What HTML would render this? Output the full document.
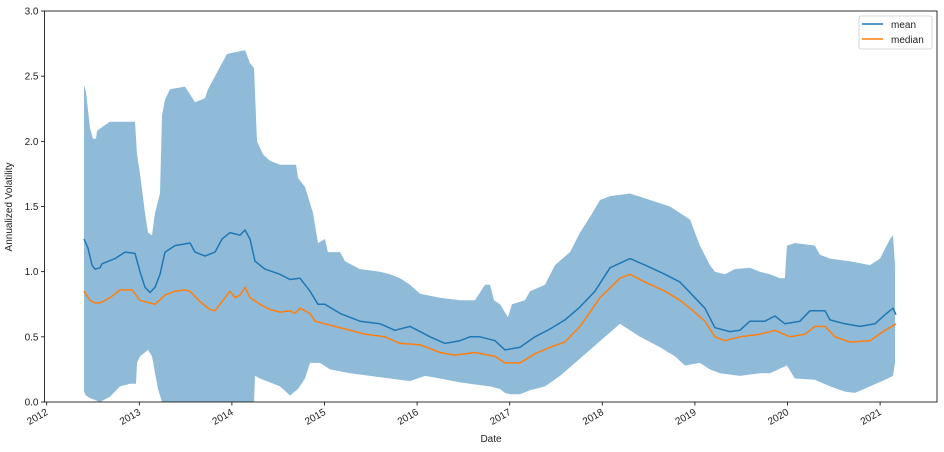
<!DOCTYPE html>
<html><head><meta charset="utf-8"><style>
body{margin:0;background:#fff;}
svg{display:block;font-family:"Liberation Sans","DejaVu Sans",sans-serif;}
</style></head><body>
<svg id="chart" width="944" height="452">
<rect width="944" height="452" fill="#fff"/>
<g id="plot"></g>
<g id="axes"></g>
<text x="12" y="207" transform="rotate(-90 12 207)" text-anchor="middle" font-size="10" fill="#222">Annualized Volatility</text>
<text x="491" y="442" text-anchor="middle" font-size="10" fill="#222">Date</text>
<g>
<rect x="859" y="16" width="73" height="33" rx="2" fill="#fff" fill-opacity="0.8" stroke="#ccc" stroke-width="0.8"/>
<line x1="862" y1="24" x2="883" y2="24" stroke="#1f77b4" stroke-width="1.5"/>
<text x="891" y="28" font-size="10" fill="#222">mean</text>
<line x1="862" y1="39" x2="883" y2="39" stroke="#ff7f0e" stroke-width="1.5"/>
<text x="891" y="43" font-size="10" fill="#222">median</text>
</g>
</svg>
<script>
const upperYears=[0.403,0.424,0.468,0.5,0.532,0.543,0.619,0.684,0.954,0.975,1.008,1.062,1.094,1.137,1.17,1.224,1.245,1.278,1.332,1.494,1.602,1.71,1.742,1.818,1.947,2.141,2.195,2.239,2.271,2.336,2.411,2.519,2.692,2.714,2.789,2.876,2.93,3.005,3.037,3.167,3.221,3.383,3.599,3.707,3.815,3.923,4.031,4.247,4.463,4.625,4.733,4.787,4.83,4.895,4.981,5.025,5.165,5.219,5.381,5.489,5.651,5.759,5.867,5.975,6.083,6.299,6.515,6.731,6.839,6.947,7.054,7.162,7.216,7.324,7.432,7.594,7.702,7.81,7.918,7.972,7.994,8.08,8.296,8.35,8.459,8.675,8.891,8.999,9.107,9.139,9.161];
const upperVals=[2.43,2.38,2.1,2.02,2.02,2.08,2.12,2.15,2.15,1.9,1.75,1.45,1.3,1.28,1.45,1.6,2.2,2.32,2.4,2.42,2.3,2.33,2.4,2.5,2.67,2.7,2.6,2.56,2.0,1.9,1.85,1.82,1.82,1.72,1.65,1.45,1.22,1.25,1.15,1.15,1.08,1.02,1.0,0.98,0.95,0.9,0.83,0.8,0.78,0.78,0.9,0.9,0.78,0.75,0.65,0.75,0.78,0.85,0.9,1.05,1.15,1.3,1.42,1.55,1.58,1.6,1.55,1.5,1.45,1.4,1.2,1.05,1.0,0.98,1.02,1.03,1.0,0.98,0.95,0.95,1.2,1.22,1.2,1.13,1.1,1.08,1.05,1.1,1.25,1.28,1.05];
const lowerYears=[0.403,0.424,0.468,0.576,0.684,0.792,0.9,0.964,0.975,1.008,1.094,1.137,1.202,1.245,2.239,2.249,2.303,2.411,2.519,2.627,2.714,2.789,2.843,2.951,3.059,3.275,3.491,3.707,3.923,4.085,4.247,4.463,4.679,4.787,4.895,4.949,5.003,5.111,5.219,5.381,5.543,5.705,5.867,6.029,6.191,6.407,6.623,6.785,6.893,7.054,7.162,7.27,7.486,7.702,7.81,7.994,8.08,8.296,8.459,8.621,8.729,8.891,9.053,9.139,9.161];
const lowerVals=[0.08,0.05,0.03,0.0,0.04,0.12,0.14,0.14,0.3,0.35,0.4,0.35,0.1,0.0,0.0,0.2,0.18,0.15,0.12,0.05,0.1,0.18,0.3,0.3,0.25,0.22,0.2,0.18,0.16,0.2,0.18,0.15,0.13,0.12,0.1,0.07,0.06,0.06,0.09,0.12,0.2,0.3,0.4,0.5,0.6,0.5,0.42,0.35,0.28,0.3,0.25,0.22,0.2,0.22,0.22,0.28,0.18,0.17,0.12,0.08,0.07,0.12,0.17,0.2,0.3];
const meanYears=[0.403,0.446,0.489,0.522,0.576,0.597,0.738,0.846,0.954,1.008,1.062,1.116,1.17,1.224,1.278,1.386,1.548,1.602,1.71,1.818,1.893,1.98,2.087,2.141,2.195,2.249,2.357,2.519,2.627,2.735,2.843,2.93,3.005,3.167,3.383,3.599,3.761,3.923,4.031,4.139,4.301,4.463,4.571,4.679,4.841,4.949,5.111,5.273,5.435,5.597,5.759,5.921,6.083,6.299,6.461,6.677,6.839,7.0,7.108,7.216,7.378,7.486,7.594,7.756,7.864,7.972,8.134,8.242,8.405,8.459,8.621,8.783,8.945,9.053,9.139,9.172];
const meanVals=[1.25,1.18,1.05,1.02,1.03,1.06,1.1,1.15,1.14,1.0,0.88,0.84,0.88,0.98,1.15,1.2,1.22,1.15,1.12,1.15,1.25,1.3,1.28,1.32,1.25,1.08,1.02,0.98,0.94,0.95,0.85,0.75,0.75,0.68,0.62,0.6,0.55,0.58,0.54,0.5,0.45,0.47,0.5,0.5,0.47,0.4,0.42,0.5,0.56,0.63,0.73,0.85,1.03,1.1,1.05,0.98,0.92,0.8,0.72,0.57,0.54,0.55,0.62,0.62,0.66,0.6,0.62,0.7,0.7,0.63,0.6,0.58,0.6,0.67,0.72,0.67];
const medianYears=[0.403,0.468,0.522,0.576,0.684,0.792,0.921,1.008,1.17,1.278,1.386,1.494,1.548,1.656,1.764,1.818,1.926,1.98,2.033,2.087,2.141,2.195,2.303,2.411,2.519,2.627,2.681,2.735,2.843,2.897,3.005,3.221,3.437,3.653,3.815,4.031,4.247,4.409,4.625,4.841,4.949,5.111,5.273,5.435,5.597,5.759,5.975,6.191,6.299,6.461,6.677,6.839,6.947,7.108,7.216,7.324,7.486,7.702,7.864,8.026,8.188,8.296,8.405,8.513,8.675,8.891,9.053,9.172];
const medianVals=[0.85,0.78,0.76,0.76,0.8,0.86,0.86,0.78,0.75,0.82,0.85,0.86,0.85,0.77,0.71,0.7,0.8,0.85,0.8,0.82,0.88,0.8,0.75,0.71,0.69,0.7,0.68,0.72,0.68,0.62,0.6,0.56,0.52,0.5,0.45,0.44,0.38,0.36,0.38,0.35,0.3,0.3,0.37,0.42,0.46,0.58,0.8,0.95,0.98,0.92,0.85,0.78,0.72,0.62,0.5,0.47,0.5,0.52,0.55,0.5,0.52,0.58,0.58,0.5,0.46,0.47,0.55,0.6];
const yTicks=[0,0.5,1,1.5,2,2.5,3];
const yTickLabels=["0.0","0.5","1.0","1.5","2.0","2.5","3.0"];
const xTickYears=[2012,2013,2014,2015,2016,2017,2018,2019,2020,2021];

const L=44.5,R=937,T=11,B=402;
function xs(yr){return 46.7+(yr-2012)*92.6;}
function xo(off){return xs(2012+off);}
function ys(v){return B-(v-0)/3*(B-T);}
const NS="http://www.w3.org/2000/svg";
function mk(tag,attrs,parent){const e=document.createElementNS(NS,tag);for(const k in attrs)e.setAttribute(k,attrs[k]);parent.appendChild(e);return e;}
const plot=document.getElementById('plot'),axes=document.getElementById('axes');

let pts=[];
for(let i=0;i<upperYears.length;i++)pts.push(xo(upperYears[i]).toFixed(1)+','+ys(upperVals[i]).toFixed(1));
for(let i=lowerYears.length-1;i>=0;i--)pts.push(xo(lowerYears[i]).toFixed(1)+','+ys(lowerVals[i]).toFixed(1));
const band=mk('polygon',{points:pts.join(' '),fill:'#1f77b4','fill-opacity':'0.5'},plot);



function line(yrs,vals,color,name){
  const p=yrs.map((y,i)=>xo(y).toFixed(1)+','+ys(vals[i]).toFixed(1)).join(' ');
  const el=mk('polyline',{points:p,fill:'none',stroke:color,'stroke-width':1.5,'stroke-linejoin':'round'},plot);
  
  
}
line(meanYears,meanVals,'#1f77b4','mean-line');
line(medianYears,medianVals,'#ff7f0e','median-line');

const frame=mk('rect',{x:L,y:T,width:R-L,height:B-T,fill:'none',stroke:'#000','stroke-width':0.8},axes);



yTicks.forEach((v,i)=>{
  const y=ys(v);
  const t=mk('line',{x1:L-3.5,y1:y,x2:L,y2:y,stroke:'#000','stroke-width':0.8},axes);
  
  
  const tx=mk('text',{x:L-6,y:y+3.5,'text-anchor':'end','font-size':10,fill:'#222'},axes);
  tx.textContent=yTickLabels[i];
  
  
});
xTickYears.forEach(yr=>{
  const x=xs(yr);
  const t=mk('line',{x1:x,y1:B,x2:x,y2:B+3.5,stroke:'#000','stroke-width':0.8},axes);
  
  
  const tx=mk('text',{x:x+2,y:B+12,'text-anchor':'end','font-size':10,fill:'#222',transform:`rotate(-30 ${x+2} ${B+12})`},axes);
  tx.textContent=String(yr);
  
  
});
</script>
</body></html>
